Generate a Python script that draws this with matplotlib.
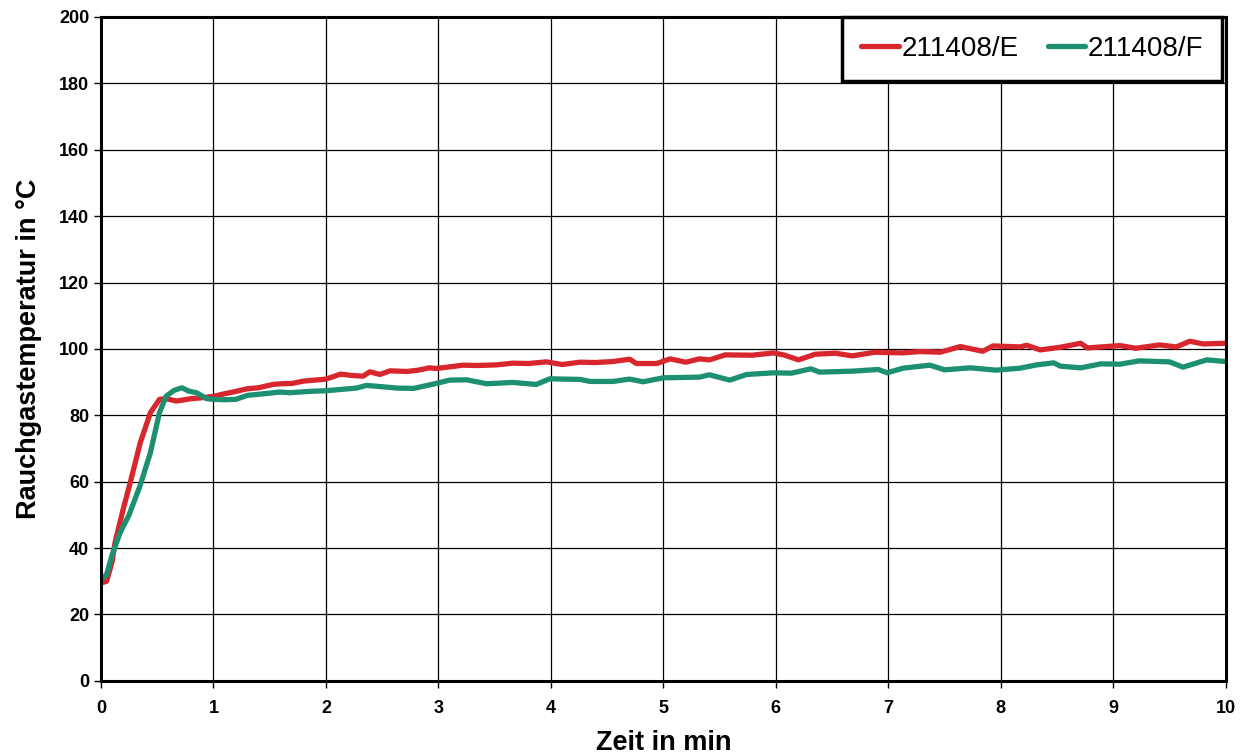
import numpy as np
import matplotlib.pyplot as plt

# Rauchgastemperatur ueber Zeit, zwei Proben
t_e = [0, 0.05, 0.1, 0.125, 0.2, 0.26, 0.35, 0.44, 0.52, 0.58, 0.67, 0.8, 0.9, 1.0,
       1.1, 1.2, 1.3, 1.4, 1.53, 1.6, 1.7, 1.8, 1.9, 2.0, 2.13, 2.23, 2.33, 2.39, 2.48,
       2.57, 2.72, 2.82, 2.92, 2.98, 3.1, 3.22, 3.35, 3.52, 3.66, 3.8, 3.96, 4.1, 4.26,
       4.4, 4.55, 4.7, 4.76, 4.94, 5.06, 5.2, 5.32, 5.41, 5.55, 5.79, 5.98, 6.08, 6.2,
       6.35, 6.53, 6.68, 6.88, 7.13, 7.28, 7.39, 7.46, 7.64, 7.84, 7.93, 8.17, 8.23,
       8.35, 8.53, 8.71, 8.77, 9.06, 9.2, 9.41, 9.56, 9.68, 9.8, 10.0]
temp_e = [29.5, 30, 36, 41.6, 52, 59.7, 71.8, 80.8, 84.8, 85, 84.3, 85, 85.3, 85.7,
          86.5, 87.2, 88, 88.3, 89.3, 89.5, 89.6, 90.3, 90.6, 90.9, 92.4, 92.0, 91.8, 93.1, 92.3,
          93.4, 93.2, 93.6, 94.3, 94.1, 94.6, 95.1, 95.0, 95.2, 95.7, 95.6, 96.1, 95.3, 96.0,
          95.9, 96.2, 96.9, 95.6, 95.6, 97.0, 96.0, 97.0, 96.7, 98.2, 98.1, 98.8, 98.1, 96.7,
          98.4, 98.7, 97.9, 99.0, 98.8, 99.2, 99.1, 99.0, 100.7, 99.3, 100.9, 100.6, 101.1,
          99.7, 100.5, 101.7, 100.3, 101.0, 100.2, 101.2, 100.6, 102.3, 101.5, 101.7]

t_f = [0, 0.05, 0.1, 0.17, 0.25, 0.3, 0.35, 0.44, 0.52, 0.58, 0.65, 0.72, 0.78, 0.85,
       0.94, 1.0, 1.1, 1.2, 1.3, 1.45, 1.59, 1.68, 1.85, 2.0, 2.27, 2.36, 2.5, 2.63, 2.78,
       2.98, 3.1, 3.25, 3.43, 3.66, 3.87, 3.99, 4.26, 4.35, 4.55, 4.7, 4.82, 5.0, 5.32,
       5.41, 5.59, 5.74, 5.98, 6.14, 6.31, 6.39, 6.68, 6.91, 6.99, 7.13, 7.37, 7.5, 7.73,
       7.96, 8.17, 8.32, 8.47, 8.53, 8.71, 8.89, 9.06, 9.23, 9.5, 9.62, 9.83, 10.0]
temp_f = [30.5, 32, 38, 44.6, 50, 54.5, 59, 68.8, 80.8, 85.8, 87.5, 88.3, 87.3, 86.8,
          85, 84.8, 84.7, 84.8, 86, 86.5, 87.0, 86.8, 87.2, 87.4, 88.2, 89.0, 88.6, 88.2, 88.1,
          89.6, 90.6, 90.7, 89.5, 89.9, 89.3, 91.0, 90.8, 90.2, 90.2, 90.9, 90.1, 91.3, 91.5,
          92.2, 90.6, 92.3, 92.8, 92.7, 94.0, 93.0, 93.3, 93.8, 92.8, 94.2, 95.1, 93.7, 94.3,
          93.6, 94.2, 95.2, 95.8, 94.8, 94.3, 95.5, 95.4, 96.4, 96.1, 94.5, 96.7, 96.2]

plt.rcParams['font.family'] = ['Liberation Sans', 'DejaVu Sans']

fig = plt.figure(figsize=(12.54, 7.54), dpi=100)
ax = fig.add_axes([0.0805, 0.097, 0.897, 0.8805])

ax.plot(t_e, temp_e, color='#d8262e', lw=3.8, label='211408/E', solid_capstyle='round')
ax.plot(t_f, temp_f, color='#1c9070', lw=3.8, label='211408/F', solid_capstyle='round')

ax.set_xlim(0, 10)
ax.set_ylim(0, 200)
ax.set_xticks(np.arange(0, 11, 1))
ax.set_yticks(np.arange(0, 201, 20))
ax.grid(True, color='black', lw=0.9)
ax.set_axisbelow(True)
for s in ax.spines.values():
    s.set_linewidth(2.2)
ax.tick_params(labelsize=13, width=1, length=5, direction='out')
ax.tick_params(axis='x', pad=9)
for lbl in ax.get_xticklabels() + ax.get_yticklabels():
    lbl.set_fontweight('bold')

ax.set_xlabel('Zeit in min', fontsize=19.5, fontweight='bold', labelpad=9)
ax.set_ylabel('Rauchgastemperatur in °C', fontsize=19.5, fontweight='bold', labelpad=12)

leg = ax.legend(loc='upper right', ncol=2, fontsize=20, frameon=True, fancybox=False,
                bbox_to_anchor=(0.997, 1.0), borderaxespad=0, handlelength=1.35,
                handletextpad=0.1, columnspacing=1.05, borderpad=0.68)
leg.get_frame().set_edgecolor('black')
leg.get_frame().set_linewidth(2.5)
leg.get_frame().set_alpha(1)

fig.savefig('out.png', dpi=100)
